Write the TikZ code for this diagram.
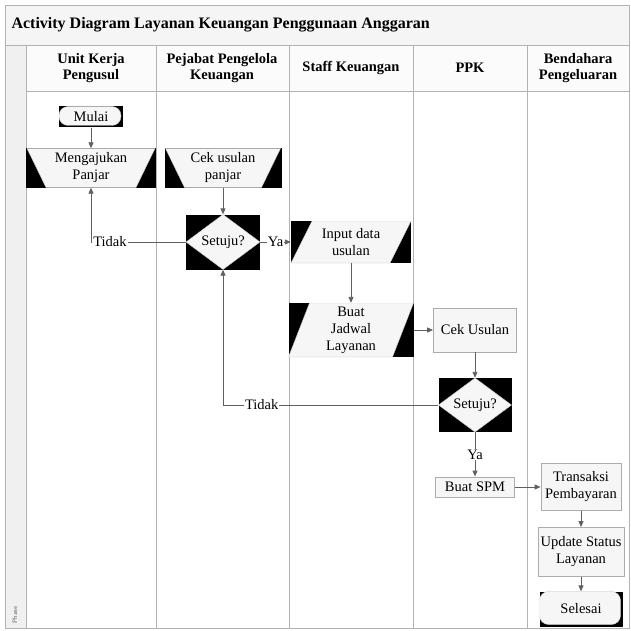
\documentclass[tikz,border=0pt]{standalone}
\usepackage{fontspec}
\setmainfont{Liberation Serif}
\usepackage{tikz}
\usetikzlibrary{shapes,arrows.meta,positioning,calc}
\colorlet{nodefill}{gray!7}
\colorlet{linegray}{gray!75!black}

\begin{document}
\begin{tikzpicture}[
    x=1pt, y=-1pt,
    lane/.style={draw=gray!60, line width=0.8pt},
    head/.style={align=center, font=\fontsize{14.5}{16.5}\selectfont\bfseries},
    blk/.style={rectangle, fill=black, inner sep=0pt, align=center, font=\fontsize{14.5}{17}\selectfont},
    termin/.style={blk, path picture={\filldraw[nodefill, draw=gray!50, rounded corners=9pt] (path picture bounding box.north west) rectangle ([shift={(-2pt,2pt)}]path picture bounding box.south east);}},
    manop/.style={blk, path picture={\filldraw[nodefill, draw=gray!50] ([xshift=1pt]path picture bounding box.north west) -- ([xshift=-1pt]path picture bounding box.north east) -- ([xshift=-20pt]path picture bounding box.south east) -- ([xshift=20pt]path picture bounding box.south west) -- cycle;}},
    dataio/.style={blk, path picture={\filldraw[nodefill, draw=gray!50] ([xshift=21pt]path picture bounding box.north west) -- (path picture bounding box.north east) -- ([xshift=-21pt]path picture bounding box.south east) -- (path picture bounding box.south west) -- cycle;}},
    decision/.style={blk, path picture={\filldraw[nodefill, draw=gray!50] (path picture bounding box.north) -- (path picture bounding box.east) -- (path picture bounding box.south) -- (path picture bounding box.west) -- cycle;}},
    box/.style={rectangle, draw=gray!65, line width=0.8pt, fill=nodefill, inner sep=0pt, align=center, font=\fontsize{14.5}{17}\selectfont},
    lbl/.style={fill=white, inner sep=1pt, font=\fontsize{14.5}{17}\selectfont},
    arrow/.style={-{Triangle[length=6pt,width=5pt]}, draw=linegray, line width=0.9pt}
]
    \useasboundingbox (0,0) rectangle (630,631);

    % Frame, title and lanes
    \fill[gray!8] (5,5) rectangle (629,45);
    \fill[gray!3] (26,45) rectangle (629,91);
    \fill[gray!12] (5,45) rectangle (26,628);
    \draw[lane] (5,5) rectangle (629,628);
    \draw[lane] (5,45) -- (629,45);
    \draw[lane] (26,91) -- (629,91);
    \foreach \x in {26,156,289,413,527}
        \draw[lane] (\x,45) -- (\x,628);
    \node[anchor=west, font=\fontsize{16}{18}\selectfont\bfseries] (title) at (8,25) {Activity Diagram Layanan Keuangan Penggunaan Anggaran};
    \node[rotate=90, anchor=west, font=\sffamily\fontsize{6.5}{7}\selectfont, text=gray!80!black] (phase) at (15,627) {Phase};

    % Lane headers
    \node[head] (unit) at (91,68) {Unit Kerja\\Pengusul};
    \node[head] (pejabat) at (222,68) {Pejabat Pengelola\\Keuangan};
    \node[head] (staff) at (351,68) {Staff Keuangan};
    \node[head] (ppk) at (470,68) {PPK};
    \node[head] (bendahara) at (578,68) {Bendahara\\Pengeluaran};

    % Unit Kerja Pengusul
    \node[termin, minimum width=64pt, minimum height=21pt] (mulai) at (91,117) {Mulai};
    \node[manop, minimum width=130pt, minimum height=39pt] (ajukan) at (91,168) {Mengajukan\\Panjar};

    % Pejabat Pengelola Keuangan
    \node[manop, minimum width=117pt, minimum height=39pt] (cekpanjar) at (223,168) {Cek usulan\\panjar};
    \node[decision, minimum width=74pt, minimum height=55pt] (setuju1) at (223,242) {Setuju?};

    % Staff Keuangan
    \node[dataio, minimum width=120pt, minimum height=42pt] (input) at (351,242) {Input data\\usulan};
    \node[dataio, minimum width=125pt, minimum height=54pt] (jadwal) at (351,330) {Buat\\Jadwal\\Layanan};

    % PPK
    \node[box, minimum width=83pt, minimum height=44pt] (cekusulan) at (475,330) {Cek Usulan};
    \node[decision, minimum width=73pt, minimum height=54pt] (setuju2) at (475,405) {Setuju?};
    \node[box, minimum width=79pt, minimum height=20pt] (spm) at (475,487) {Buat SPM};

    % Bendahara Pengeluaran
    \node[box, minimum width=80pt, minimum height=47pt] (transaksi) at (581,487) {Transaksi\\Pembayaran};
    \node[box, minimum width=86pt, minimum height=49pt] (update) at (581,552) {Update Status\\Layanan};
    \node[termin, minimum width=83pt, minimum height=35pt] (selesai) at (581,609) {Selesai};

    % Arrows
    \draw[arrow] (mulai) -- (ajukan);
    \draw[arrow] (cekpanjar) -- (setuju1);
    \draw[arrow] (setuju1.west) -| node[lbl, pos=0.4] {Tidak} (ajukan.south);
    \draw[arrow] (setuju1.east) -- node[lbl] {Ya} (input.west);
    \draw[arrow] (input) -- (jadwal);
    \draw[arrow] (jadwal) -- (cekusulan);
    \draw[arrow] (cekusulan) -- (setuju2);
    \draw[arrow] (setuju2.west) -| node[lbl, pos=0.41] {Tidak} (setuju1.south);
    \draw[arrow] (setuju2) -- node[lbl] {Ya} (spm);
    \draw[arrow] (spm) -- (transaksi);
    \draw[arrow] (transaksi) -- (update);
    \draw[arrow] (update) -- (selesai);
\end{tikzpicture}
\end{document}
